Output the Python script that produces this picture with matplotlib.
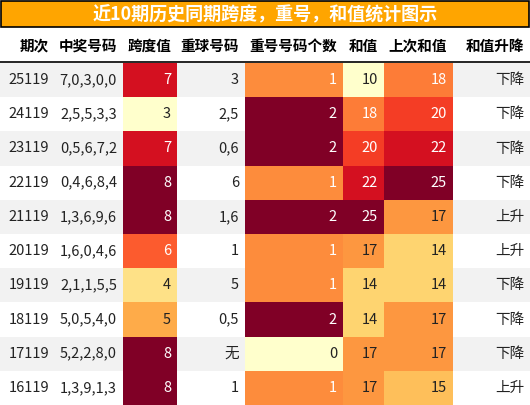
import matplotlib.pyplot as plt
import matplotlib.patches as mpatches
from matplotlib import cm, colors

plt.rcParams['font.family'] = ['Noto Sans CJK SC', 'DejaVu Sans']

issues = ["25119", "24119", "23119", "22119", "21119", "20119", "19119", "18119", "17119", "16119"]
numbers = ["7,0,3,0,0", "2,5,5,3,3", "0,5,6,7,2", "0,4,6,8,4", "1,3,6,9,6",
           "1,6,0,4,6", "2,1,1,5,5", "5,0,5,4,0", "5,2,2,8,0", "1,3,9,1,3"]
span = [7, 3, 7, 8, 8, 6, 4, 5, 8, 8]
repeat_balls = ["3", "2,5", "0,6", "6", "1,6", "1", "5", "0,5", "无", "1"]
repeat_count = [1, 2, 2, 1, 2, 1, 1, 2, 0, 1]
sums = [10, 18, 20, 22, 25, 17, 14, 14, 17, 17]
prev_sums = [18, 20, 22, 25, 17, 14, 14, 17, 17, 15]
trend = ["下降", "下降", "下降", "下降", "上升", "上升", "下降", "下降", "下降", "上升"]
headers = ["期次", "中奖号码", "跨度值", "重球号码", "重号号码个数", "和值", "上次和值", "和值升降"]
title = "近10期历史同期跨度，重号，和值统计图示"

W, H = 530, 405
edges = [0, 55, 123, 177, 245, 343, 384, 453, 530]
title_h, head_bot, row_top, row_h = 27, 62, 63, 34.2

fig = plt.figure(figsize=(W / 100, H / 100), dpi=100)
ax = fig.add_axes([0, 0, 1, 1])
ax.set_xlim(0, W)
ax.set_ylim(H, 0)
ax.axis("off")

cmap = cm.get_cmap("YlOrRd") if hasattr(cm, "get_cmap") else plt.get_cmap("YlOrRd")
cmap = plt.get_cmap("YlOrRd")
norm_span = colors.Normalize(min(span), max(span))
norm_rep = colors.Normalize(min(repeat_count), max(repeat_count))
allsum = sums + prev_sums
norm_sum = colors.Normalize(min(allsum), max(allsum))

# title bar
ax.add_patch(mpatches.Rectangle((1, 1), W - 2, title_h - 1, facecolor="#FFA500", edgecolor="black", lw=1.2))
ax.text(W / 2, title_h / 2 + 1, title, ha="center", va="center", color="white", fontsize=13, fontweight="bold")

# header
for i, h in enumerate(headers):
    ax.text(edges[i + 1] - 6, (title_h + head_bot) / 2 + 1, h, ha="right", va="center", fontsize=10.5, fontweight="bold")
ax.plot([0, W], [head_bot, head_bot], color="black", lw=1.2)

for r in range(10):
    y0 = row_top + r * row_h
    bg = "#f2f2f2" if r % 2 == 0 else "white"
    ax.add_patch(mpatches.Rectangle((0, y0), W, row_h, facecolor=bg, lw=0))
    cells = [issues[r], numbers[r], span[r], repeat_balls[r], repeat_count[r], sums[r], prev_sums[r], trend[r]]
    norms = {2: norm_span, 4: norm_rep, 5: norm_sum, 6: norm_sum}
    for c, val in enumerate(cells):
        tc = "#222222"
        if c in norms:
            v = norms[c](val)
            ax.add_patch(mpatches.Rectangle((edges[c], y0), edges[c + 1] - edges[c], row_h,
                                            facecolor=cmap(v), lw=0))
            if v >= 0.5:
                tc = "white"
        ax.text(edges[c + 1] - 6, y0 + row_h / 2, str(val), ha="right", va="center", fontsize=10.5, color=tc)

fig.savefig("out.png", dpi=100)
